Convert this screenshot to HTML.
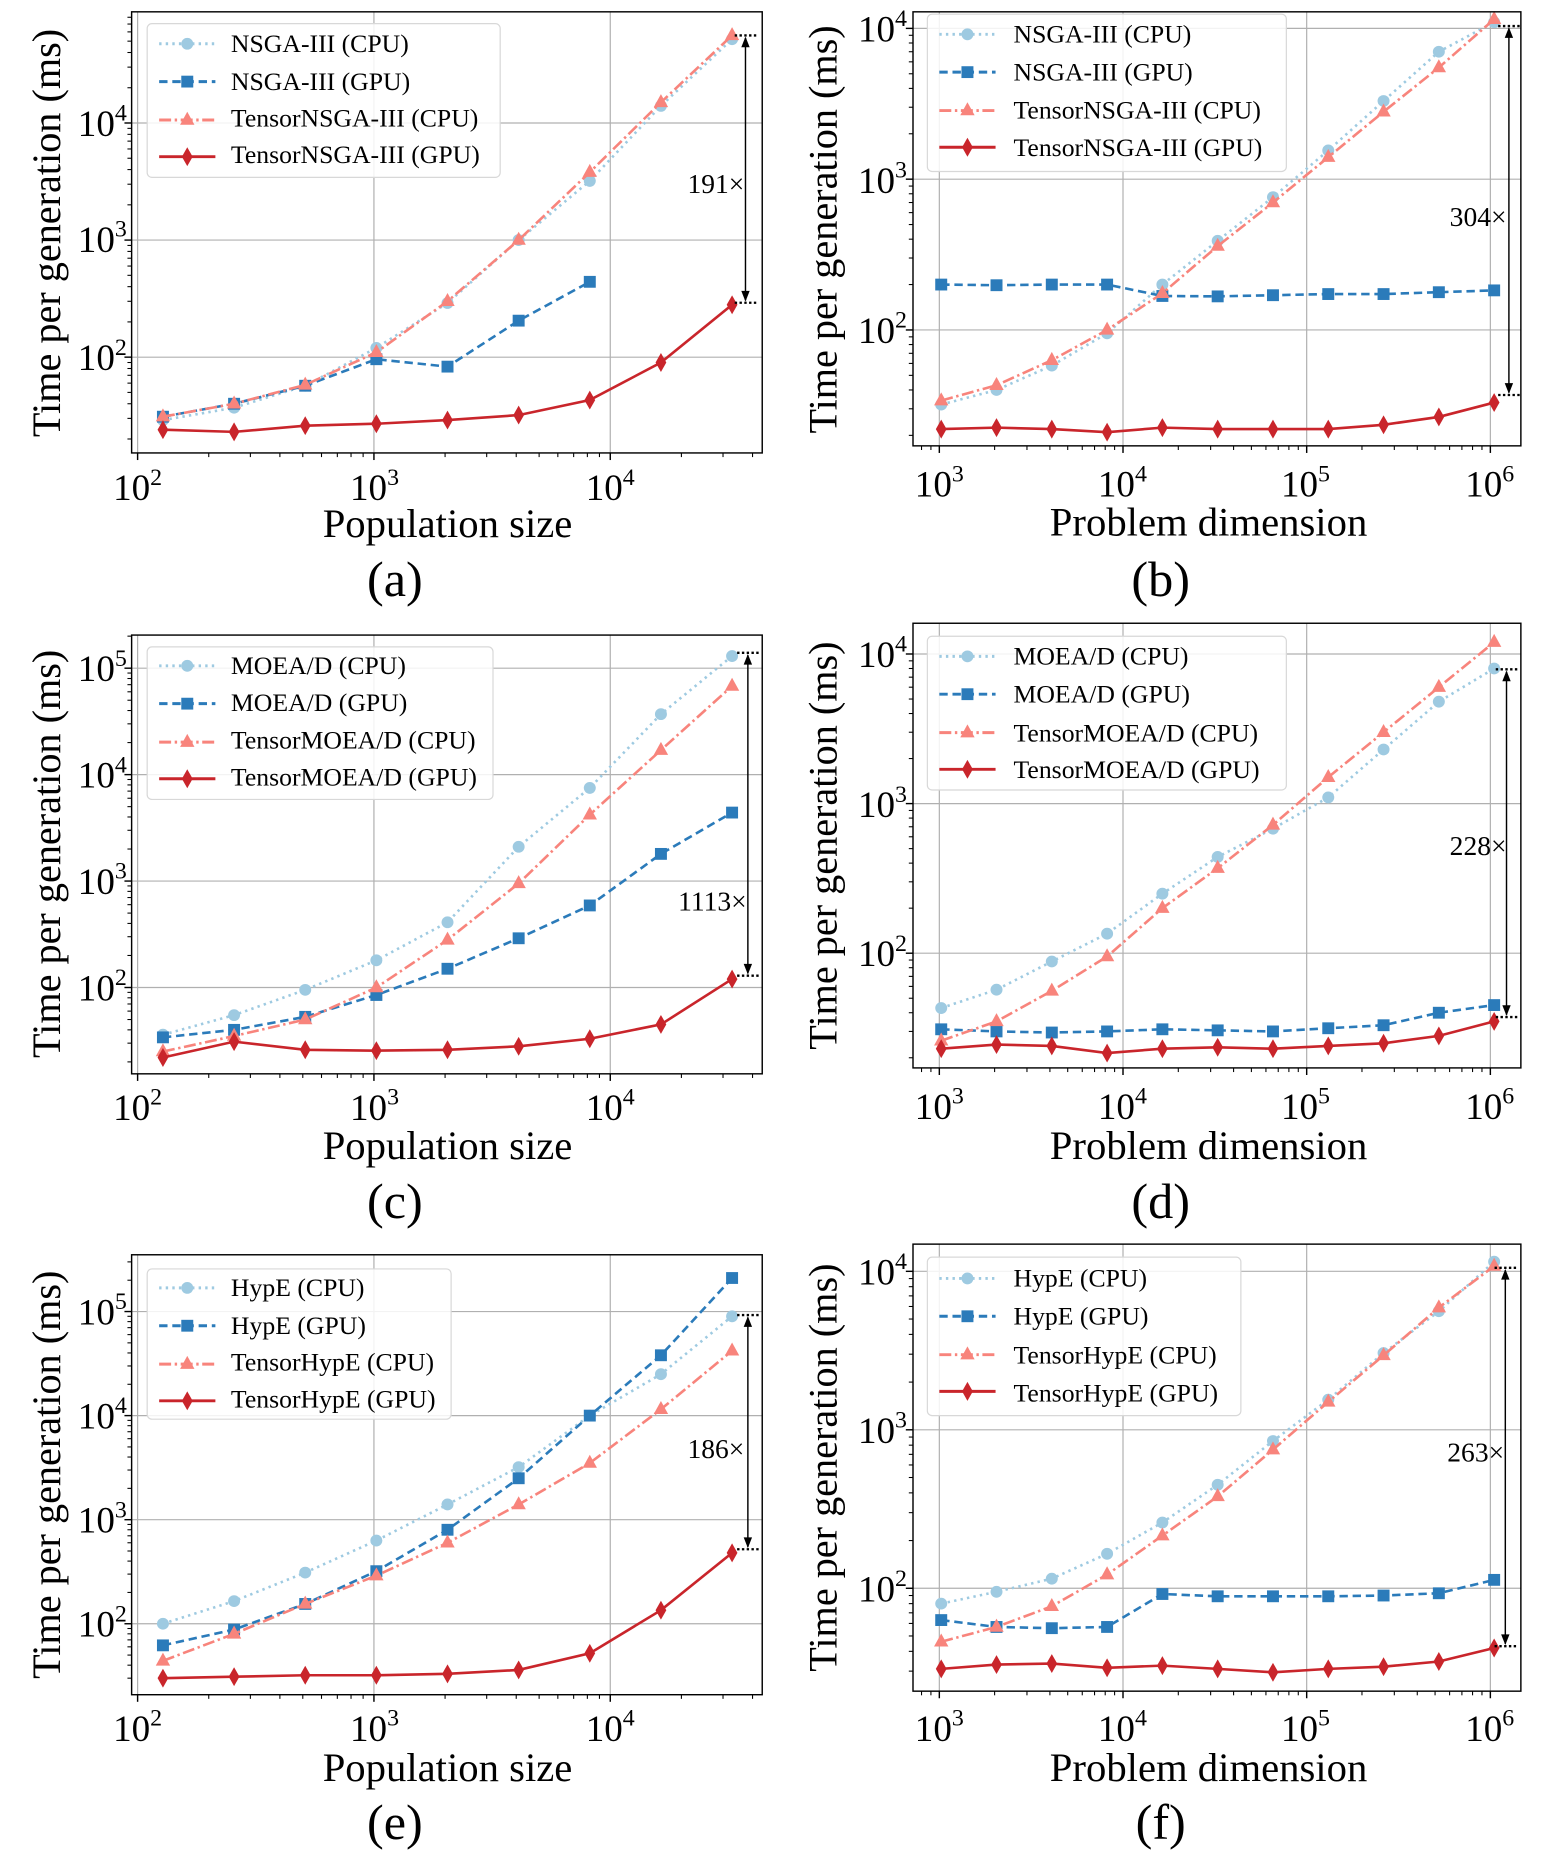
<!DOCTYPE html>
<html><head><meta charset="utf-8"><style>
html,body{margin:0;padding:0;background:#fff}
svg{display:block}
text{font-family:"Liberation Serif",serif;fill:#000}
</style></head><body>
<svg id="s" width="1546" height="1852" viewBox="0 0 1292 1566" preserveAspectRatio="none" xmlns="http://www.w3.org/2000/svg">
<g id="g"></g>
<g font-size="31">
<text x="106" y="313" text-anchor="end">10<tspan dy="-13" font-size="20">2</tspan></text>
<text x="106" y="213" text-anchor="end">10<tspan dy="-13" font-size="20">3</tspan></text>
<text x="106" y="115" text-anchor="end">10<tspan dy="-13" font-size="20">4</tspan></text>
<text x="115" y="423" text-anchor="middle">10<tspan dy="-13" font-size="20">2</tspan></text>
<text x="313" y="423" text-anchor="middle">10<tspan dy="-13" font-size="20">3</tspan></text>
<text x="510" y="423" text-anchor="middle">10<tspan dy="-13" font-size="20">4</tspan></text>
<text x="758" y="290" text-anchor="end">10<tspan dy="-13" font-size="20">2</tspan></text>
<text x="758" y="163" text-anchor="end">10<tspan dy="-13" font-size="20">3</tspan></text>
<text x="758" y="35" text-anchor="end">10<tspan dy="-13" font-size="20">4</tspan></text>
<text x="785" y="420" text-anchor="middle">10<tspan dy="-13" font-size="20">3</tspan></text>
<text x="938" y="420" text-anchor="middle">10<tspan dy="-13" font-size="20">4</tspan></text>
<text x="1091" y="420" text-anchor="middle">10<tspan dy="-13" font-size="20">5</tspan></text>
<text x="1245" y="420" text-anchor="middle">10<tspan dy="-13" font-size="20">6</tspan></text>
<text x="106" y="846" text-anchor="end">10<tspan dy="-13" font-size="20">2</tspan></text>
<text x="106" y="756" text-anchor="end">10<tspan dy="-13" font-size="20">3</tspan></text>
<text x="106" y="666" text-anchor="end">10<tspan dy="-13" font-size="20">4</tspan></text>
<text x="106" y="576" text-anchor="end">10<tspan dy="-13" font-size="20">5</tspan></text>
<text x="115" y="947" text-anchor="middle">10<tspan dy="-13" font-size="20">2</tspan></text>
<text x="313" y="947" text-anchor="middle">10<tspan dy="-13" font-size="20">3</tspan></text>
<text x="510" y="947" text-anchor="middle">10<tspan dy="-13" font-size="20">4</tspan></text>
<text x="758" y="817" text-anchor="end">10<tspan dy="-13" font-size="20">2</tspan></text>
<text x="758" y="691" text-anchor="end">10<tspan dy="-13" font-size="20">3</tspan></text>
<text x="758" y="564" text-anchor="end">10<tspan dy="-13" font-size="20">4</tspan></text>
<text x="785" y="946" text-anchor="middle">10<tspan dy="-13" font-size="20">3</tspan></text>
<text x="938" y="946" text-anchor="middle">10<tspan dy="-13" font-size="20">4</tspan></text>
<text x="1091" y="946" text-anchor="middle">10<tspan dy="-13" font-size="20">5</tspan></text>
<text x="1245" y="946" text-anchor="middle">10<tspan dy="-13" font-size="20">6</tspan></text>
<text x="106" y="1384" text-anchor="end">10<tspan dy="-13" font-size="20">2</tspan></text>
<text x="106" y="1296" text-anchor="end">10<tspan dy="-13" font-size="20">3</tspan></text>
<text x="106" y="1208" text-anchor="end">10<tspan dy="-13" font-size="20">4</tspan></text>
<text x="106" y="1120" text-anchor="end">10<tspan dy="-13" font-size="20">5</tspan></text>
<text x="115" y="1472" text-anchor="middle">10<tspan dy="-13" font-size="20">2</tspan></text>
<text x="313" y="1472" text-anchor="middle">10<tspan dy="-13" font-size="20">3</tspan></text>
<text x="510" y="1472" text-anchor="middle">10<tspan dy="-13" font-size="20">4</tspan></text>
<text x="758" y="1354" text-anchor="end">10<tspan dy="-13" font-size="20">2</tspan></text>
<text x="758" y="1220" text-anchor="end">10<tspan dy="-13" font-size="20">3</tspan></text>
<text x="758" y="1086" text-anchor="end">10<tspan dy="-13" font-size="20">4</tspan></text>
<text x="785" y="1472" text-anchor="middle">10<tspan dy="-13" font-size="20">3</tspan></text>
<text x="938" y="1472" text-anchor="middle">10<tspan dy="-13" font-size="20">4</tspan></text>
<text x="1091" y="1472" text-anchor="middle">10<tspan dy="-13" font-size="20">5</tspan></text>
<text x="1245" y="1472" text-anchor="middle">10<tspan dy="-13" font-size="20">6</tspan></text>
</g>
<g font-size="34">
<text transform="translate(50,197) rotate(-90)" text-anchor="middle">Time per generation (ms)</text>
<text transform="translate(699,194) rotate(-90)" text-anchor="middle">Time per generation (ms)</text>
<text transform="translate(50,722) rotate(-90)" text-anchor="middle">Time per generation (ms)</text>
<text transform="translate(699,715) rotate(-90)" text-anchor="middle">Time per generation (ms)</text>
<text transform="translate(50,1247) rotate(-90)" text-anchor="middle">Time per generation (ms)</text>
<text transform="translate(699,1241) rotate(-90)" text-anchor="middle">Time per generation (ms)</text>
<text x="374" y="454" text-anchor="middle">Population size</text>
<text x="1010" y="453" text-anchor="middle">Problem dimension</text>
<text x="374" y="980" text-anchor="middle">Population size</text>
<text x="1010" y="980" text-anchor="middle">Problem dimension</text>
<text x="374" y="1506" text-anchor="middle">Population size</text>
<text x="1010" y="1506" text-anchor="middle">Problem dimension</text>
</g>
<g font-size="42" text-anchor="middle">
<text x="330" y="504">(a)</text>
<text x="970" y="504">(b)</text>
<text x="330" y="1030">(c)</text>
<text x="970" y="1030">(d)</text>
<text x="330" y="1555">(e)</text>
<text x="970" y="1555">(f)</text>
</g>
<g font-size="23" text-anchor="end">
<text x="622" y="163">191×</text>
<text x="1259" y="191">304×</text>
<text x="624" y="770">1113×</text>
<text x="1259" y="723">228×</text>
<text x="622" y="1233">186×</text>
<text x="1257" y="1236">263×</text>
</g>
<g id="leg"></g>
<g font-size="21.5">
<text x="193" y="44">NSGA-III (CPU)</text>
<text x="193" y="76">NSGA-III (GPU)</text>
<text x="193" y="107">TensorNSGA-III (CPU)</text>
<text x="193" y="138">TensorNSGA-III (GPU)</text>
<text x="847" y="36">NSGA-III (CPU)</text>
<text x="847" y="68">NSGA-III (GPU)</text>
<text x="847" y="100">TensorNSGA-III (CPU)</text>
<text x="847" y="132">TensorNSGA-III (GPU)</text>
<text x="193" y="570">MOEA/D (CPU)</text>
<text x="193" y="601">MOEA/D (GPU)</text>
<text x="193" y="633">TensorMOEA/D (CPU)</text>
<text x="193" y="664">TensorMOEA/D (GPU)</text>
<text x="847" y="562">MOEA/D (CPU)</text>
<text x="847" y="594">MOEA/D (GPU)</text>
<text x="847" y="627">TensorMOEA/D (CPU)</text>
<text x="847" y="658">TensorMOEA/D (GPU)</text>
<text x="193" y="1096">HypE (CPU)</text>
<text x="193" y="1128">HypE (GPU)</text>
<text x="193" y="1159">TensorHypE (CPU)</text>
<text x="193" y="1190">TensorHypE (GPU)</text>
<text x="847" y="1088">HypE (CPU)</text>
<text x="847" y="1120">HypE (GPU)</text>
<text x="847" y="1153">TensorHypE (CPU)</text>
<text x="847" y="1185">TensorHypE (GPU)</text>
</g>
</svg>
<script>
var NS="http://www.w3.org/2000/svg";
var G=document.getElementById("g"),L=document.getElementById("leg");
function el(p,t,a){var e=document.createElementNS(NS,t);for(var k in a)e.setAttribute(k,a[k]);p.appendChild(e);return e;}
var C=["#9ecae1","#2b7bba","#f8847c","#c9252b"];
var D=["2,3.5","7,4","10,3,2,3",""];
function marker(p,k,x,y){
 if(k==0)el(p,"circle",{cx:x,cy:y,r:5,fill:C[0]});
 else if(k==1)el(p,"rect",{x:x-5,y:y-5,width:10,height:10,fill:C[1]});
 else if(k==2)el(p,"polygon",{points:(x)+","+(y-7)+" "+(x+6)+","+(y+4)+" "+(x-6)+","+(y+4),fill:C[2]});
 else el(p,"polygon",{points:x+","+(y-8)+" "+(x+4.5)+","+y+" "+x+","+(y+8)+" "+(x-4.5)+","+y,fill:C[3]});
}
var P=[
{x0:110,x1:637,y0:10,y1:383,xr:2,xa:115,xs:197.5,yr:2,ya:302,ys:99,n:9,s:128,
 d:[[29,37,57,120,290,1000,3200,14000,52000],[31,40,57,96,83,205,440],[31,40,58,110,300,1000,3800,15000,56000],[24,23,26,27,29,32,43,90,280]],
 ar:[623,30,256],lg:[123,20,418,150,37]},
{x0:763,x1:1271,y0:10,y1:377,xr:3,xa:785,xs:153.5,yr:2,ya:279,ys:127.5,n:11,s:1024,
 d:[[32,40,58,95,200,390,760,1550,3300,7000,11000],[200,198,200,200,168,167,170,173,173,178,183],[34,43,63,100,175,360,700,1400,2800,5500,11500],[22,22.5,22,21,22.5,22,22,22,23.5,26.5,33]],
 ar:[1261,22,334],lg:[775,12,1075,145,29]},
{x0:110,x1:637,y0:537,y1:908,xr:2,xa:115,xs:197.5,yr:2,ya:835,ys:90,n:9,s:128,
 d:[[36,55,95,180,410,2100,7500,37000,130000],[34,40,53,85,150,290,590,1800,4400],[25,35,50,100,280,950,4200,17000,68000],[22,31,26,25.5,26,28,33,45,120]],
 ar:[625,552,825],lg:[123,547,412,676,563]},
{x0:763,x1:1271,y0:527,y1:903,xr:3,xa:785,xs:153.5,yr:2,ya:806,ys:126.5,n:11,s:1024,
 d:[[43,57,88,135,250,440,680,1100,2300,4800,8000],[31,30,29.5,30,31,30.5,30,31.5,33,40,45],[26,35,56,95,200,370,720,1500,3000,6000,12000],[23,24.5,24,21.5,23,23.5,23,24,25,28,35]],
 ar:[1259,566,860],lg:[775,538,1075,668,555]},
{x0:110,x1:637,y0:1061,y1:1433,xr:2,xa:115,xs:197.5,yr:2,ya:1373,ys:88,n:9,s:128,
 d:[[100,165,310,630,1400,3200,10000,25000,90000],[62,88,155,320,800,2500,10000,38000,210000],[44,80,155,290,600,1400,3500,11500,42000],[30,31,32,32,33,36,52,135,480]],
 ar:[625,1112,1310],lg:[123,1073,377,1200,1089]},
{x0:763,x1:1271,y0:1052,y1:1430,xr:3,xa:785,xs:153.5,yr:2,ya:1343,ys:134,n:11,s:1024,
 d:[[80,95,115,165,260,450,850,1550,3050,5600,11500],[63,57,56,57,92,89,89,89,90,93,113],[46,57,77,122,215,380,750,1500,2950,5900,10800],[31,33,33.5,31.5,32.5,31,29.5,31,32,34.5,42]],
 ar:[1258,1072,1392],lg:[775,1063,1037,1197,1081]}
];
P.forEach(function(p){
 var X=function(v){return p.xa+(Math.log10(v)-p.xr)*p.xs;};
 var Y=function(v){return p.ya-(Math.log10(v)-p.yr)*p.ys;};
 var g=el(G,"g",{});
 for(var e=0;e<8;e++)for(var m=1;m<10;m++){
  var v=m*Math.pow(10,e);
  var x=X(v);
  if(x>=p.x0&&x<=p.x1){
   if(m==1){el(g,"line",{x1:x,x2:x,y1:p.y0,y2:p.y1,stroke:"#b0b0b0","stroke-width":1});el(g,"line",{x1:x,x2:x,y1:p.y1,y2:p.y1+6,stroke:"#000","stroke-width":1.2});}
   else el(g,"line",{x1:x,x2:x,y1:p.y1,y2:p.y1+3.5,stroke:"#000","stroke-width":0.9});
  }
  var y=Y(v);
  if(y>=p.y0&&y<=p.y1){
   if(m==1){el(g,"line",{x1:p.x0,x2:p.x1,y1:y,y2:y,stroke:"#b0b0b0","stroke-width":1});el(g,"line",{x1:p.x0-6,x2:p.x0,y1:y,y2:y,stroke:"#000","stroke-width":1.2});}
   else el(g,"line",{x1:p.x0-3.5,x2:p.x0,y1:y,y2:y,stroke:"#000","stroke-width":0.9});
  }
 }
 for(var k=0;k<4;k++){
  var pts=p.d[k].map(function(v,i){return [X(p.s*Math.pow(2,i)),Y(v)];});
  var a={points:pts.map(function(q){return q.join(",")}).join(" "),fill:"none",stroke:C[k],"stroke-width":2.2};
  if(D[k])a["stroke-dasharray"]=D[k];
  el(g,"polyline",a);
  pts.forEach(function(q){marker(g,k,q[0],q[1]);});
 }
 var ax=p.ar[0],t=p.ar[1],b=p.ar[2];
 el(g,"line",{x1:ax-9,x2:ax+9,y1:t,y2:t,stroke:"#000","stroke-width":2,"stroke-dasharray":"2,2"});
 el(g,"line",{x1:ax-9,x2:ax+9,y1:b,y2:b,stroke:"#000","stroke-width":2,"stroke-dasharray":"2,2"});
 el(g,"line",{x1:ax,x2:ax,y1:t+2,y2:b-2,stroke:"#000","stroke-width":1.2});
 el(g,"polygon",{points:ax+","+(t+1)+" "+(ax-3.5)+","+(t+10)+" "+(ax+3.5)+","+(t+10),fill:"#000"});
 el(g,"polygon",{points:ax+","+(b-1)+" "+(ax-3.5)+","+(b-10)+" "+(ax+3.5)+","+(b-10),fill:"#000"});
 el(g,"rect",{x:p.x0,y:p.y0,width:p.x1-p.x0,height:p.y1-p.y0,fill:"none",stroke:"#000","stroke-width":1.2});
 var l=p.lg;
 el(L,"rect",{x:l[0],y:l[1],width:l[2]-l[0],height:l[3]-l[1],rx:4,fill:"#fff","fill-opacity":0.85,stroke:"#d8d8d8","stroke-width":1});
 var rows=[l[4],l[4]+32,l[4]+64.5,l[4]+95.5];
 for(var k=0;k<4;k++){
  var lx=l[0]+10,ly=rows[k];
  var a={x1:lx,x2:lx+47,y1:ly,y2:ly,stroke:C[k],"stroke-width":2.5};
  if(D[k])a["stroke-dasharray"]=D[k];
  el(L,"line",a);
  marker(L,k,lx+23.5,ly);
 }
});
</script>
</body></html>
